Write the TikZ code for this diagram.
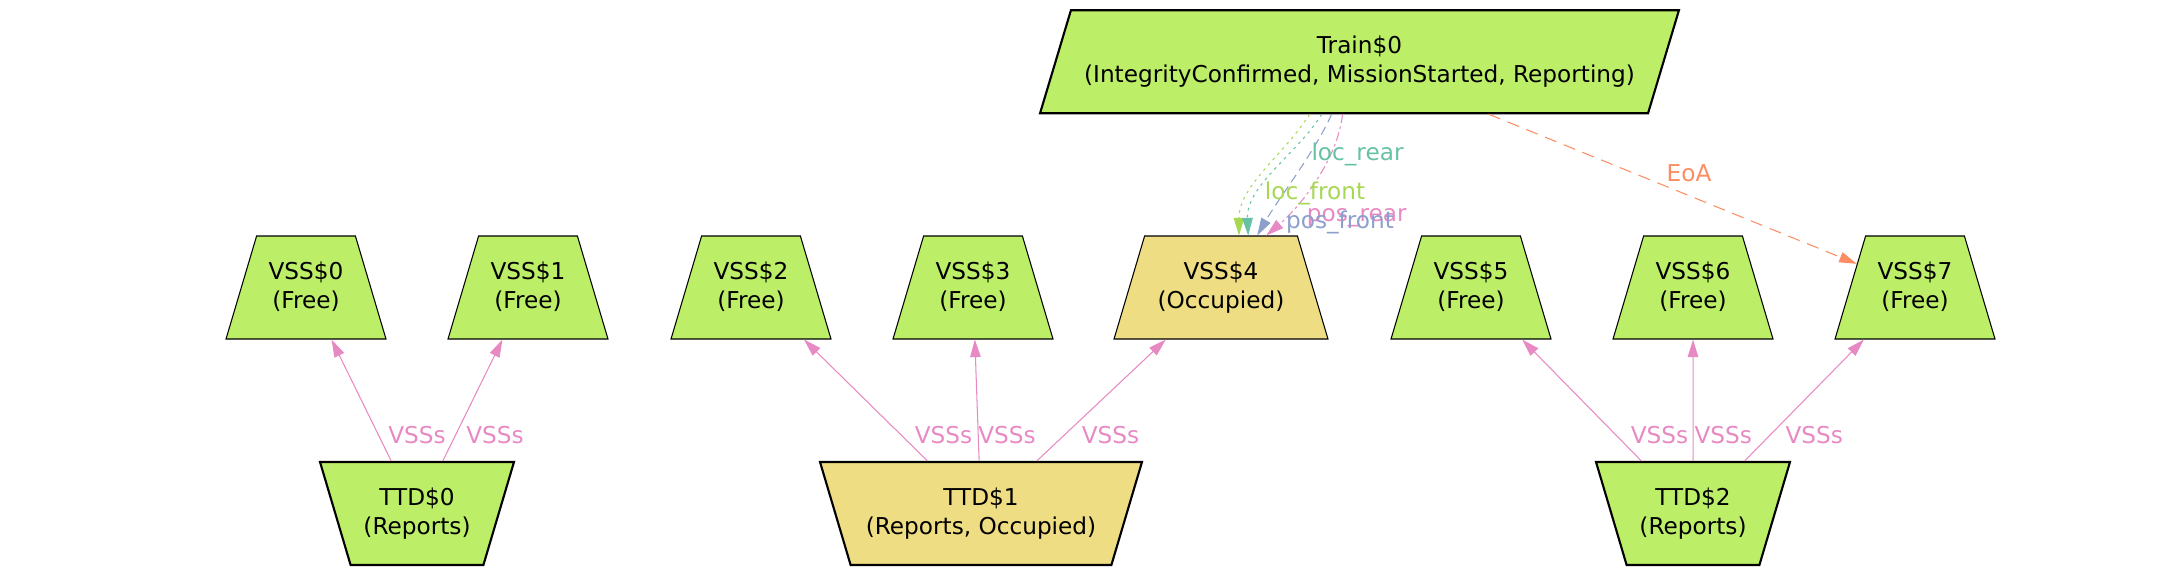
\documentclass[tikz,border=0pt]{standalone}
\usepackage{fontspec}
\setmainfont{DejaVu Sans}
\usetikzlibrary{
    arrows.meta,      % For arrow tips
    shapes.geometric, % For trapezium nodes
    calc              % For points along node sides
}

\definecolor{freegreen}{HTML}{BCEE68}
\definecolor{occyellow}{HTML}{EEDD82}
\definecolor{setteal}{HTML}{66C2A5}
\definecolor{setorange}{HTML}{FC8D62}
\definecolor{setblue}{HTML}{8DA0CB}
\definecolor{setpink}{HTML}{E78AC3}
\definecolor{setgreen}{HTML}{A6D854}

\begin{document}
\begin{tikzpicture}[
    x=0.02cm, y=-0.02cm, % one unit = one pixel of the layout
    >={Triangle[length=10pt,width=6pt]}, % Default arrow tip
    txt/.style={font=\fontsize{13.2pt}{16.5pt}\selectfont}, % Base text style
    box/.style={txt, draw, align=center, text height=26.5pt, text depth=2.7pt,
        inner ysep=14.6pt, minimum height=2.06cm}, % Two-line boxes
    vss/.style={box, line width=0.6pt, fill=freegreen,
        trapezium, trapezium angle=73.4, trapezium stretches body,
        minimum width=3.2cm}, % Sections
    occupied/.style={fill=occyellow}, % Occupied state
    ttd/.style={vss, line width=1.2pt, shape border rotate=180,
        minimum width=3.88cm}, % Track detection sections
    train/.style={box, line width=1.2pt, fill=freegreen,
        trapezium, trapezium left angle=73.25, trapezium right angle=106.75,
        trapezium stretches body, minimum width=12.78cm}, % The train
    link/.style={setpink, line width=0.6pt, ->}, % VSSs links
    ref/.style={line width=0.6pt, ->}, % Train references
    linklabel/.style={txt, anchor=base, inner sep=0pt} % Edge labels
]

    \useasboundingbox (0,0) rectangle (2160,576);

    % Train
    \node[train] (train) at (1359.5,61.7)
        {Train\$0\\(IntegrityConfirmed, MissionStarted, Reporting)};

    % Virtual sub-sections
    \node[vss] (vss0) at (306,287.5) {VSS\$0\\(Free)};
    \node[vss] (vss1) at (528,287.5) {VSS\$1\\(Free)};
    \node[vss] (vss2) at (751,287.5) {VSS\$2\\(Free)};
    \node[vss] (vss3) at (973,287.5) {VSS\$3\\(Free)};
    \node[vss, occupied, minimum width=4.28cm] (vss4) at (1221,287.5)
        {VSS\$4\\(Occupied)};
    \node[vss] (vss5) at (1471,287.5) {VSS\$5\\(Free)};
    \node[vss] (vss6) at (1693,287.5) {VSS\$6\\(Free)};
    \node[vss] (vss7) at (1915,287.5) {VSS\$7\\(Free)};

    % Track detection sections
    \node[ttd] (ttd0) at (417,513.5) {TTD\$0\\(Reports)};
    \node[ttd, occupied, minimum width=6.44cm] (ttd1) at (981,513.5)
        {TTD\$1\\(Reports, Occupied)};
    \node[ttd] (ttd2) at (1693,513.5) {TTD\$2\\(Reports)};

    % TTD -> VSS links
    \draw[link] (ttd0) -- (vss0);
    \draw[link] (ttd0) -- (vss1);
    \draw[link] (ttd1) -- (vss2);
    \draw[link] (ttd1) -- (vss3);
    \draw[link] (ttd1) -- (vss4);
    \draw[link] (ttd2) -- (vss5);
    \draw[link] (ttd2) -- (vss6);
    \draw[link] (ttd2) -- (vss7);
    \node[linklabel, setpink] (l0) at (417,443.3) {VSSs};
    \node[linklabel, setpink] (l1) at (495,443.3) {VSSs};
    \node[linklabel, setpink] (l2) at (943.5,443.3) {VSSs};
    \node[linklabel, setpink] (l3) at (1007,443.3) {VSSs};
    \node[linklabel, setpink] (l4) at (1110.5,443.3) {VSSs};
    \node[linklabel, setpink] (l5) at (1659.5,443.3) {VSSs};
    \node[linklabel, setpink] (l6) at (1723.3,443.3) {VSSs};
    \node[linklabel, setpink] (l7) at (1814.3,443.3) {VSSs};

    % Train -> VSS$4 references
    \draw[ref, setgreen, dash pattern=on 1.5pt off 2.5pt]
        ($(train.bottom left corner)!0.444!(train.bottom right corner)$)
        .. controls +(-25,40) and +(0,-50) ..
        ($(vss4.top left corner)!0.617!(vss4.top right corner)$);
    \draw[ref, setteal, dash pattern=on 1.5pt off 2.5pt]
        ($(train.bottom left corner)!0.464!(train.bottom right corner)$)
        .. controls +(-25,40) and +(-2,-50) ..
        ($(vss4.top left corner)!0.677!(vss4.top right corner)$);
    \draw[ref, setblue, dash pattern=on 5pt off 3pt]
        ($(train.bottom left corner)!0.48!(train.bottom right corner)$)
        .. controls +(-15,35) and +(20,-35) ..
        ($(vss4.top left corner)!0.736!(vss4.top right corner)$);
    \draw[ref, setpink, dash pattern=on 5pt off 2pt on 1.5pt off 2pt]
        ($(train.bottom left corner)!0.498!(train.bottom right corner)$)
        .. controls +(-5,45) and +(35,-30) ..
        ($(vss4.top left corner)!0.795!(vss4.top right corner)$);
    \node[linklabel, setteal] (lrear) at (1357.5,160) {loc\_rear};
    \node[linklabel, setgreen] (lfront) at (1315,199) {loc\_front};
    \node[linklabel, setpink] (prear) at (1356.7,221) {pos\_rear};
    \node[linklabel, setblue] (pfront) at (1340,228.3) {pos\_front};

    % End of authority
    \draw[ref, setorange, dash pattern=on 7pt off 4.5pt] (train) -- (vss7);
    \node[linklabel, setorange] (leoa) at (1689,181) {EoA};

\end{tikzpicture}
\end{document}
